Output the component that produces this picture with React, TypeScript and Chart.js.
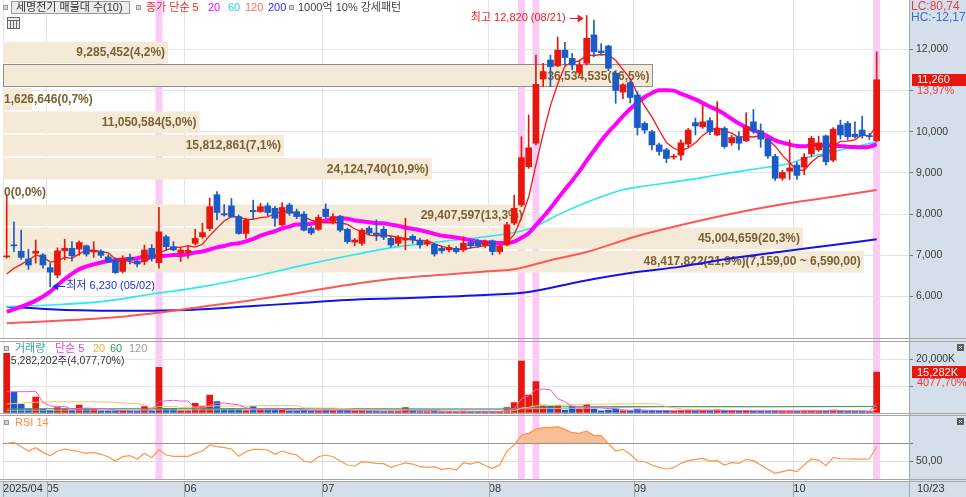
import React, { useEffect, useRef } from 'react';
import { Chart, registerables } from 'chart.js';

Chart.register(...registerables);

// ---------------- data ----------------
const opens = [6960,7250,7100,6910,7050,7010,6700,6520,7110,7170, 7150,7230,7080,7100,6960,6880,6610,6950,6860,6850, 7170,6820,7450,7210,7060,7070,7290,7450,7650,8470, 8010,8200,7940,7530,8090,8060,8200,8140,7740,8220, 8060,8000,7660,7630,8120,7820,7950,7630,7320,7290, 7660,7540,7630,7410,7290,7370,7460,7370,7270,7270, 7170,7130,7170,7130,7310,7350,7240,7350,7090,7250, 7780,8220,9150,9720,11280,11740,11600,11980,11780,11440, 11660,12350,11960,12080,11420,10960,11190,10890,10200,10000, 9680,9560,9380,9430,9700,10220,10120,10270,9920,10080, 9730,9880,9780,10240,10020,9820,9400,8870,9040,9190, 9140,9460,9560,9900,9310,10160,10200,9940,10040,9890, 9780];
const highs = [8460,7815,7615,7146,7370,7040,6810,7180,7390,7330, 7350,7250,7330,7130,7010,6940,6990,7030,6880,7250, 7260,8165,7490,7330,7170,7210,7630,7780,8390,8545, 8230,8380,7980,7900,8340,8260,8270,8180,8280,8260, 8120,8060,7700,7980,8250,8010,7970,7660,7410,7650, 7700,7860,7700,7460,7480,7900,7500,7410,7380,7290, 7230,7250,7210,7450,7370,7380,7370,7370,7250,7800, 8460,9880,10405,11860,11660,11860,12300,12170,11900,11740, 12820,12710,12140,12100,11480,11170,11230,10970,10240,10040, 9720,9600,9450,9800,10080,10330,10650,10340,10730,10120, 9910,10000,10460,10540,10190,9840,9450,9060,9800,9260, 9470,9890,9890,9920,10100,10280,10250,10240,10380,9960, 11940];
const lows = [6930,7090,6900,6660,6810,6690,6230,6450,6890,6860, 7000,6980,6950,6940,6820,6560,6570,6790,6720,6770, 6860,6690,7110,7110,6850,6930,7250,7410,7600,7860, 7950,7920,7510,7410,7870,8040,7960,7700,7710,7970, 7890,7590,7500,7600,7900,7760,7570,7290,7230,7240, 7500,7360,7380,7200,7230,7130,7290,7170,7230,6980, 7050,7080,7050,7090,7170,7190,7190,7010,7030,7230, 7740,8180,9110,9680,11090,11090,11580,11620,11500,11360, 11620,11820,11860,11480,10690,10800,10700,9920,9960,9560, 9430,9250,9330,9310,9630,9920,10080,9930,9900,9600, 9670,9560,9760,9960,9620,9350,8820,8820,8840,8840, 8960,9390,9520,9190,9270,9820,9800,9840,9840,9810, 9760];
const closes = [6975,7230,6950,6765,7100,6765,6590,7110,7170,6990, 7310,7030,7110,7000,6840,6580,6920,6890,6790,7130, 6930,7570,7210,7130,7130,7120,7410,7550,8180,8040, 7980,7940,7530,7860,8060,8180,8040,7900,8160,8020, 7940,7610,7540,7920,7940,7940,7610,7330,7370,7610, 7540,7500,7440,7250,7440,7410,7370,7250,7330,7030, 7110,7190,7090,7290,7230,7230,7330,7090,7210,7740, 8140,9370,9610,11150,11460,11580,11980,11800,11620,11620, 12270,11940,11920,11540,11000,11140,10830,10100,10040,9680, 9520,9350,9400,9730,10040,10140,10240,10000,10080,9640, 9860,9720,10120,10020,9820,9410,8870,9010,9120,8940, 9380,9840,9730,9270,10060,9920,9880,9880,9900,9880, 11260];
const volumesK = [22330,7670,3160,1390,5900,1400,900,1880,1400,1000, 2900,1400,1400,750,750,700,750,600,500,2260, 750,17070,1650,1650,750,700,3530,2520,6650,4140, 1400,1650,1150,800,2260,1400,1000,1000,1400,750, 700,900,600,700,1400,700,1000,800,500,700, 500,600,500,600,500,1880,500,450,400,700, 400,400,350,600,400,400,450,500,500,1880, 3760,19440,6650,11660,2900,2520,2650,1000,2520,1400, 3160,1400,750,1000,1400,750,700,1400,700,800, 700,700,600,900,1000,700,900,700,1100,800, 600,600,900,700,600,600,800,600,700,600, 700,900,600,800,1000,600,600,500,600,375, 15282];
const rsi14 = [70.0,71.1,66.2,61.3,65.1,59.8,56.0,61.3,63.6,62.1, 60.5,58.7,59.8,57.6,54.9,50.0,54.9,56.0,52.3,58.7, 53.7,62.9,56.8,55.3,55.3,55.3,58.7,61.3,68.1,66.2, 65.1,63.6,55.3,60.5,63.2,63.2,62.5,57.6,61.3,58.7, 56.8,50.0,48.5,54.9,56.8,54.9,50.0,45.5,44.4,49.3, 48.5,47.4,47.0,42.9,45.5,47.8,46.6,43.6,42.9,43.6, 40.6,41.8,39.9,48.1,46.6,49.0,45.0,41.8,45.5,61.3, 68.1,79.4,81.3,86.2,87.7,87.7,88.8,85.8,82.0,81.3, 83.9,78.7,78.7,70.0,61.3,63.2,57.6,50.0,49.2,45.5, 42.9,41.0,42.5,47.4,50.4,51.9,53.0,50.0,50.4,45.5, 48.1,47.4,51.9,50.4,45.5,40.6,36.1,38.0,39.9,38.0, 45.5,52.3,51.1,44.7,54.1,52.6,52.3,52.4,52.1,52.3, 66.2];

const monthStartIdx = [0, 6, 25, 44, 67, 87, 109];
const monthLabels = ['2025/04', '05', '06', '07', '08', '09', '10'];
const lastDateLabel = '10/23';
const highDateLabel = '08/21';
const lowDateLabel = '05/02';
const patternIdx = [21, 71, 73, 120];

const ma5Head = [6545, 6685, 6780, 6885];
const ma20HeadIdx = [0, 2, 4, 6, 8, 10, 12, 14, 16, 18];
const ma20HeadVal = [5632, 5753, 5900, 6120, 6420, 6660, 6780, 6860, 6900, 6930];
const ma60Idx = [0, 6, 13, 20, 27, 34, 40, 47, 54, 61, 66, 72, 77, 82, 85, 88, 94, 98, 103, 108, 110, 114, 117, 120];
const ma60Val = [5753, 5795, 5875, 6060, 6240, 6480, 6725, 6983, 7210, 7355, 7450, 7640, 8060, 8420, 8590, 8680, 8830, 8950, 9090, 9230, 9355, 9515, 9636, 9757];
const ma120Idx = [0, 13, 20, 27, 34, 40, 47, 54, 66, 70, 75, 80, 87, 93, 100, 107, 114, 120];
const ma120Val = [5350, 5470, 5590, 5752, 5915, 6078, 6280, 6440, 6605, 6660, 6880, 7080, 7470, 7735, 8010, 8240, 8420, 8585];
const ma200Idx = [0, 6, 13, 20, 27, 34, 40, 47, 54, 66, 72, 79, 86, 93, 100, 107, 114, 120];
const ma200Val = [5753, 5690, 5655, 5655, 5690, 5770, 5835, 5915, 5957, 6037, 6110, 6360, 6570, 6725, 6927, 7090, 7250, 7390];

const vol5Head = [7900, 7900, 7900, 7900];
const vol20HeadIdx = [0, 2, 4, 6, 10, 14, 17];
const vol20HeadVal = [3300, 3600, 3900, 4100, 4100, 4000, 3500];
const vol60Idx = [0, 20, 40, 60, 68, 72, 76, 90, 105, 120];
const vol60Val = [1500, 1500, 1550, 1400, 1350, 1900, 2200, 2300, 2250, 2400];
const vol120Idx = [0, 30, 60, 80, 90, 112, 120];
const vol120Val = [900, 1100, 1300, 1700, 2200, 2250, 2300];

// volume profile bands, bottom to top
const bandEdges = [6563, 7127, 7691, 8254, 8818, 9382, 9946, 10510, 11073, 11637, 12201];
const bandVolumes = [48417822, 45004659, 29407597, 0, 24124740, 15812861, 11050584, 1626646, 36534535, 9285452];
const maxBandRange = [7159, 6590];

const priceTicks = [6000, 7000, 8000, 9000, 10000, 11000, 12000];
const volumeTicksK = [10000, 20000];
const rsiTicks = [50, 70];
const lastVolume = 15282202;
const lastVolumePct = 4077.7;
const lcValue = 80.74;
const hcValue = -12.17;

// ---------------- helpers ----------------
const W = 966;
const H = 497;
const AXIS_W = 57;
const FONT = '"Liberation Sans", "Noto Sans CJK KR", sans-serif';
const GRID = '#e4e4e4';
const AXIS_BG = '#d5dfeb';
const UP = '#e8170d';
const DOWN = '#1a5bc8';
const PINK = '#fbcbf6';
const BAND = '#f5e9d7';
const X_MIN = -0.51;
const X_MAX = 124.46;

const N = closes.length;
const idx = Array.from({ length: N }, (_, i) => i);
const candleColor = idx.map((i) => (closes[i] >= opens[i] ? UP : DOWN));
const fmt = (v: number) => Math.round(v).toLocaleString('en-US');
const dec = (v: number, d: number) => v.toFixed(d).replace('.', ',');
const fmtDec = (v: number, d: number) => {
  const [a, b] = v.toFixed(d).split('.');
  return Number(a).toLocaleString('en-US') + ',' + b;
};
function sma(arr: number[], n: number, i: number) {
  let s = 0;
  for (let k = i - n + 1; k <= i; k++) s += arr[k];
  return s / n;
}
const pts = (xs: number[], ys: number[]) => xs.map((x, k) => ({ x, y: ys[k] }));

const ma5 = idx.map((i) => ({ x: i, y: i < 4 ? ma5Head[i] : sma(closes, 5, i) }));
const ma20 = [...pts(ma20HeadIdx, ma20HeadVal), ...idx.filter((i) => i >= 19).map((i) => ({ x: i, y: sma(closes, 20, i) }))];
const vol5 = idx.map((i) => ({ x: i, y: i < 4 ? vol5Head[i] : sma(volumesK, 5, i) }));
const vol20 = [...pts(vol20HeadIdx, vol20HeadVal), ...idx.filter((i) => i >= 19).map((i) => ({ x: i, y: sma(volumesK, 20, i) }))];

function bullet(ctx: CanvasRenderingContext2D, x: number, y: number) {
  ctx.fillStyle = '#9a9a9a';
  ctx.fillRect(x, y, 5, 5);
  ctx.fillStyle = '#d4d4d4';
  ctx.fillRect(x + 1, y + 1, 3, 3);
}
function text(ctx: CanvasRenderingContext2D, s: string, x: number, y: number, color: string, size = 11, align: CanvasTextAlign = 'left', weight = '') {
  ctx.font = `${weight ? weight + ' ' : ''}${size}px ${FONT}`;
  ctx.fillStyle = color;
  ctx.textAlign = align;
  ctx.textBaseline = 'middle';
  ctx.fillText(s, x, y);
}
function arrow(ctx: CanvasRenderingContext2D, x1: number, y: number, x2: number, color: string) {
  ctx.strokeStyle = color;
  ctx.fillStyle = color;
  ctx.lineWidth = 1;
  ctx.beginPath();
  ctx.moveTo(x1, y + 0.5);
  ctx.lineTo(x2, y + 0.5);
  ctx.stroke();
  const d = Math.sign(x2 - x1);
  ctx.beginPath();
  ctx.moveTo(x2 + d, y + 0.5);
  ctx.lineTo(x2 - d * 5, y - 3.5);
  ctx.lineTo(x2 - d * 5, y + 4.5);
  ctx.closePath();
  ctx.fill();
}
function closeBtn(ctx: CanvasRenderingContext2D, x: number, y: number) {
  ctx.fillStyle = '#5c5c5c';
  ctx.fillRect(x, y, 7, 7);
  ctx.strokeStyle = '#e0e0e0';
  ctx.lineWidth = 1;
  ctx.beginPath();
  ctx.moveTo(x + 2, y + 2);
  ctx.lineTo(x + 5, y + 5);
  ctx.moveTo(x + 5, y + 2);
  ctx.lineTo(x + 2, y + 5);
  ctx.stroke();
}
function line(data: any[], color: string, width: number, order: number, smooth = false) {
  return {
    type: 'line',
    data,
    borderColor: color,
    borderWidth: width,
    pointRadius: 0,
    fill: false,
    tension: 0,
    cubicInterpolationMode: smooth ? 'monotone' : 'default',
    order,
  };
}
function xScale(show: boolean) {
  return {
    type: 'linear',
    min: X_MIN,
    max: X_MAX,
    bounds: 'data',
    offset: false,
    afterBuildTicks: (s: any) => {
      s.ticks = monthStartIdx.map((i) => ({ value: i - 0.5 }));
    },
    afterFit: (s: any) => {
      s.height = show ? 18 : 0;
      s.paddingLeft = 0;
      s.paddingRight = 0;
    },
    grid: { color: GRID, drawTicks: false, offset: false, lineWidth: 1 },
    border: { display: false },
    ticks: show
      ? {
          display: true,
          autoSkip: false,
          maxRotation: 0,
          minRotation: 0,
          align: 'start',
          padding: 3,
          color: '#333',
          font: { size: 11, family: FONT },
          callback: (_v: any, i: number) => monthLabels[i],
        }
      : { display: false },
  };
}
function yScale(min: number, max: number, ticks: number[], label: (v: number) => string, gridColor: any = GRID) {
  return {
    type: 'linear',
    position: 'right',
    min,
    max,
    bounds: 'data',
    afterBuildTicks: (s: any) => {
      s.ticks = ticks.map((v) => ({ value: v }));
    },
    afterFit: (s: any) => {
      s.width = AXIS_W;
      s.paddingTop = 0;
      s.paddingBottom = 0;
    },
    grid: { color: gridColor, drawTicks: true, tickLength: 4, tickColor: '#777' },
    border: { display: true, color: '#9a9a9a' },
    ticks: { color: '#3a3a3a', padding: 3, font: { size: 10.5, family: FONT }, callback: (v: any) => label(Number(v)) },
  };
}
const common = {
  responsive: false,
  animation: false,
  events: [],
  plugins: { legend: { display: false }, tooltip: { enabled: false } },
};

// ---------------- plugins ----------------
const pricePlugin = {
  id: 'pricePanel',
  beforeDraw(chart: any) {
    const { ctx, chartArea: ca, scales } = chart;
    const x = scales.x;
    ctx.save();
    ctx.fillStyle = '#ffffff';
    ctx.fillRect(0, 0, W, H);
    ctx.fillStyle = AXIS_BG;
    ctx.fillRect(ca.right, 0, W - ca.right, H);
    ctx.fillRect(0, 481, W, H - 481);
    ctx.fillStyle = PINK;
    patternIdx.forEach((i) => {
      const px = x.getPixelForValue(i);
      ctx.fillRect(px - 3.5, 0, 7, 479);
    });
    ctx.restore();
  },
  beforeDatasetsDraw(chart: any) {
    const { ctx, chartArea: ca, scales } = chart;
    const y = scales.y;
    const maxV = Math.max(...bandVolumes);
    const total = bandVolumes.reduce((a, b) => a + b, 0);
    const k2w = (0.95 * ca.width) / maxV;
    const last = closes[N - 1];
    ctx.save();
    let hk = -1;
    for (let k = 0; k < bandVolumes.length; k++) {
      const top = y.getPixelForValue(bandEdges[k + 1]) + 0.8;
      const bot = y.getPixelForValue(bandEdges[k]) - 0.8;
      ctx.fillStyle = BAND;
      ctx.fillRect(ca.left, top, bandVolumes[k] * k2w, bot - top);
      if (last >= bandEdges[k] && last < bandEdges[k + 1]) hk = k;
    }
    if (hk >= 0) {
      const top = Math.round(y.getPixelForValue(bandEdges[hk + 1])) + 0.5;
      const bot = Math.round(y.getPixelForValue(bandEdges[hk])) - 0.5;
      ctx.strokeStyle = '#8e8e8e';
      ctx.lineWidth = 1;
      ctx.strokeRect(ca.left + 0.5, top, Math.round(bandVolumes[hk] * k2w), bot - top);
    }
    ctx.font = `bold 12px ${FONT}`;
    for (let k = 0; k < bandVolumes.length; k++) {
      const v = bandVolumes[k];
      let s = `${fmt(v)}(${dec((v / total) * 100, 1)}%)`;
      if (v === maxV) s += `(${fmtDec(maxBandRange[0], 2)} ~ ${fmtDec(maxBandRange[1], 2)})`;
      const cy = (y.getPixelForValue(bandEdges[k + 1]) + y.getPixelForValue(bandEdges[k])) / 2;
      const w = v * k2w;
      ctx.font = `bold 12px ${FONT}`;
      const tw = ctx.measureText(s).width;
      if (tw + 6 < w) text(ctx, s, ca.left + w - 3, cy + 0.5, '#7a6232', 12, 'right', 'bold');
      else text(ctx, s, ca.left + 1, cy + 0.5, '#7a6232', 12, 'left', 'bold');
    }
    ctx.restore();
  },
  afterDraw(chart: any) {
    const { ctx, chartArea: ca, scales } = chart;
    const x = scales.x;
    const y = scales.y;
    ctx.save();
    // header
    bullet(ctx, 3, 5);
    ctx.fillStyle = '#ececec';
    ctx.fillRect(11.5, 1.5, 118, 12);
    ctx.strokeStyle = '#9a9a9a';
    ctx.lineWidth = 1;
    ctx.strokeRect(11.5, 1.5, 118, 12);
    text(ctx, '세명전기 매물대 수(10)', 16, 8, '#333');
    bullet(ctx, 136, 5);
    text(ctx, '종가 단순 5', 146, 8, '#f02828');
    text(ctx, '20', 208, 8, '#ff00ff');
    text(ctx, '60', 228, 8, '#1ed6e6');
    text(ctx, '120', 245, 8, '#ff6a6a');
    text(ctx, '200', 268, 8, '#2a2aff');
    bullet(ctx, 289, 5);
    text(ctx, '1000억 10% 강세패턴', 298, 8, '#444');
    // grid icon
    ctx.fillStyle = '#ececec';
    ctx.fillRect(7, 17, 13, 12);
    ctx.strokeStyle = '#666';
    ctx.strokeRect(7.5, 17.5, 12, 11);
    ctx.beginPath();
    ctx.moveTo(7.5, 20.5);
    ctx.lineTo(19.5, 20.5);
    [10.5, 13.5, 16.5].forEach((xx) => {
      ctx.moveTo(xx, 20.5);
      ctx.lineTo(xx, 28.5);
    });
    ctx.stroke();
    // high / low annotations
    const hv = Math.max(...highs);
    const hi = highs.indexOf(hv);
    const hx = x.getPixelForValue(hi);
    const hy = y.getPixelForValue(hv) + 2.5;
    text(ctx, `최고 ${fmt(hv)} (${highDateLabel})`, hx - 21, hy, '#f01e1e', 11, 'right');
    arrow(ctx, hx - 17, Math.round(hy), hx - 4, '#f01e1e');
    const lv = Math.min(...lows);
    const li = lows.indexOf(lv);
    const lx = x.getPixelForValue(li);
    const ly = y.getPixelForValue(lv) - 1;
    arrow(ctx, lx + 15, Math.round(ly), lx + 3, '#2233cc');
    text(ctx, `최저 ${fmt(lv)} (${lowDateLabel})`, lx + 16, ly, '#2233cc', 11, 'left');
    // right side labels
    text(ctx, `LC:${dec(lcValue, 2)}`, ca.right + 2, 6.5, '#e24444', 12);
    text(ctx, `HC:${dec(hcValue, 2)}`, ca.right + 2, 17.5, '#3a6cd0', 12);
    const lc = closes[N - 1];
    const py = y.getPixelForValue(lc);
    ctx.fillStyle = UP;
    ctx.fillRect(ca.right + 3, Math.round(py) - 6, W - ca.right - 3, 12);
    text(ctx, fmt(lc), ca.right + 8, py + 0.5, '#ffffff', 11);
    text(ctx, `${dec((lc / closes[N - 2] - 1) * 100, 2)}%`, ca.right + 8, py + 11.5, '#f03c3c', 11);
    ctx.restore();
  },
};

const volPlugin = {
  id: 'volPanel',
  beforeDatasetsDraw(chart: any) {
    const { ctx } = chart;
    ctx.save();
    bullet(ctx, 4, 346);
    text(ctx, '거래량', 15, 349, '#3a9e9e');
    text(ctx, '단순 5', 55, 349, '#e04ad8');
    text(ctx, '20', 93, 349, '#f0b030');
    text(ctx, '60', 110, 349, '#2e9e4e');
    text(ctx, '120', 129, 349, '#9a9a9a');
    text(ctx, `${fmt(lastVolume)}주(${fmtDec(lastVolumePct, 2)}%)`, 5, 361, '#333', 10.5);
    ctx.restore();
  },
  afterDraw(chart: any) {
    const { ctx, chartArea: ca, scales } = chart;
    const y = scales.y;
    ctx.save();
    const v = volumesK[N - 1];
    const py = y.getPixelForValue(v);
    ctx.fillStyle = UP;
    ctx.fillRect(ca.right + 3, Math.round(py) - 6, W - ca.right - 3, 12);
    text(ctx, `${fmt(v)}K`, ca.right + 8, py + 0.5, '#ffffff', 11);
    text(ctx, `${dec(lastVolumePct, 2)}%`, ca.right + 8, py + 11, '#f03c3c', 11);
    closeBtn(ctx, 957, 344);
    ctx.restore();
  },
};

const rsiPlugin = {
  id: 'rsiPanel',
  afterDraw(chart: any) {
    const { ctx, chartArea: ca, scales } = chart;
    const x = scales.x;
    ctx.save();
    bullet(ctx, 4, 420);
    text(ctx, 'RSI 14', 15, 423, '#ff8a3c');
    closeBtn(ctx, 957, 418);
    ctx.strokeStyle = '#a6a6a6';
    ctx.lineWidth = 1;
    ctx.beginPath();
    [338.5, 341.5, 413.5, 415.5, 479.5, 481.5].forEach((yy) => {
      ctx.moveTo(0, yy);
      ctx.lineTo(W, yy);
    });
    const ax = Math.round(ca.right) + 0.5;
    ctx.moveTo(ax, 0);
    ctx.lineTo(ax, H);
    monthStartIdx.forEach((i) => {
      const px = Math.round(x.getPixelForValue(i - 0.5)) + 0.5;
      ctx.moveTo(px, 481.5);
      ctx.lineTo(px, H);
    });
    ctx.stroke();
    text(ctx, lastDateLabel, ca.right + 8, 489, '#333', 11);
    ctx.restore();
  },
};

// ---------------- configs ----------------
function priceConfig(): any {
  return {
    type: 'bar',
    data: {
      datasets: [
        { type: 'bar', data: idx.map((i) => ({ x: i, y: [opens[i], closes[i]] })), backgroundColor: candleColor, barThickness: 6, minBarLength: 1, grouped: false, order: 0 },
        { type: 'bar', data: idx.map((i) => ({ x: i, y: [lows[i], highs[i]] })), backgroundColor: candleColor, barThickness: 1, grouped: false, order: 1 },
        line(ma5, '#ff1414', 1.3, 2),
        line(ma20, '#ff00ff', 4, 3, true),
        line(pts(ma60Idx, ma60Val), '#28e8f2', 1.6, 4, true),
        line(pts(ma120Idx, ma120Val), '#ff5656', 2, 5, true),
        line(pts(ma200Idx, ma200Val), '#1414e6', 2, 6, true),
      ],
    },
    options: {
      ...common,
      layout: { padding: { left: 3, right: 0, top: 0, bottom: H - 338 } },
      scales: {
        x: xScale(false),
        y: yScale(4992.6, 13196.6, priceTicks, (v) => (v === 11000 ? '' : fmt(v))),
      },
    },
    plugins: [pricePlugin],
  };
}
function volConfig(): any {
  return {
    type: 'bar',
    data: {
      datasets: [
        { type: 'bar', data: idx.map((i) => ({ x: i, y: volumesK[i] })), backgroundColor: candleColor, barThickness: 6, grouped: false, order: 5 },
        line(vol5, '#e85ae0', 1, 0),
        line(vol20, '#f2c264', 1, 1, true),
        line(pts(vol60Idx, vol60Val), '#3c9e58', 1, 2, true),
        line(pts(vol120Idx, vol120Val), '#b4b4b4', 1, 3, true),
      ],
    },
    options: {
      ...common,
      layout: { padding: { left: 3, right: 0, top: 341, bottom: H - 412.7 } },
      scales: {
        x: xScale(false),
        y: yScale(0, 26955, volumeTicksK, (v) => (v === 20000 ? `${fmt(v)}K` : '')),
      },
    },
    plugins: [volPlugin],
  };
}
function rsiConfig(): any {
  return {
    type: 'line',
    data: {
      datasets: [
        {
          type: 'line',
          data: idx.map((i) => ({ x: i, y: rsi14[i] })),
          borderColor: '#ff9446',
          borderWidth: 1.2,
          pointRadius: 0,
          tension: 0,
          fill: { target: { value: 70 }, above: '#f7bf98', below: 'rgba(0,0,0,0)' },
        },
      ],
    },
    options: {
      ...common,
      layout: { padding: { left: 3, right: 0, top: 415, bottom: 0 } },
      scales: {
        x: xScale(true),
        y: yScale(29.7, 102, rsiTicks, (v) => (v === 50 ? dec(50, 2) : ''), (c: any) => (c.tick && c.tick.value === 70 ? '#8c8c8c' : '#dcdcdc')),
      },
    },
    plugins: [rsiPlugin],
  };
}

export default function App() {
  const r1 = useRef<HTMLCanvasElement>(null);
  const r2 = useRef<HTMLCanvasElement>(null);
  const r3 = useRef<HTMLCanvasElement>(null);
  useEffect(() => {
    Chart.defaults.font.family = FONT;
    const charts = [new Chart(r1.current as any, priceConfig()), new Chart(r2.current as any, volConfig()), new Chart(r3.current as any, rsiConfig())];
    return () => charts.forEach((c) => c.destroy());
  }, []);
  const cs: React.CSSProperties = { position: 'absolute', left: 0, top: 0, width: W, height: H };
  return (
    <div style={{ position: 'absolute', left: 0, top: 0, width: W, height: H, overflow: 'hidden', background: '#fff' }}>
      <canvas ref={r1} width={W} height={H} style={cs} />
      <canvas ref={r2} width={W} height={H} style={cs} />
      <canvas ref={r3} width={W} height={H} style={cs} />
    </div>
  );
}
